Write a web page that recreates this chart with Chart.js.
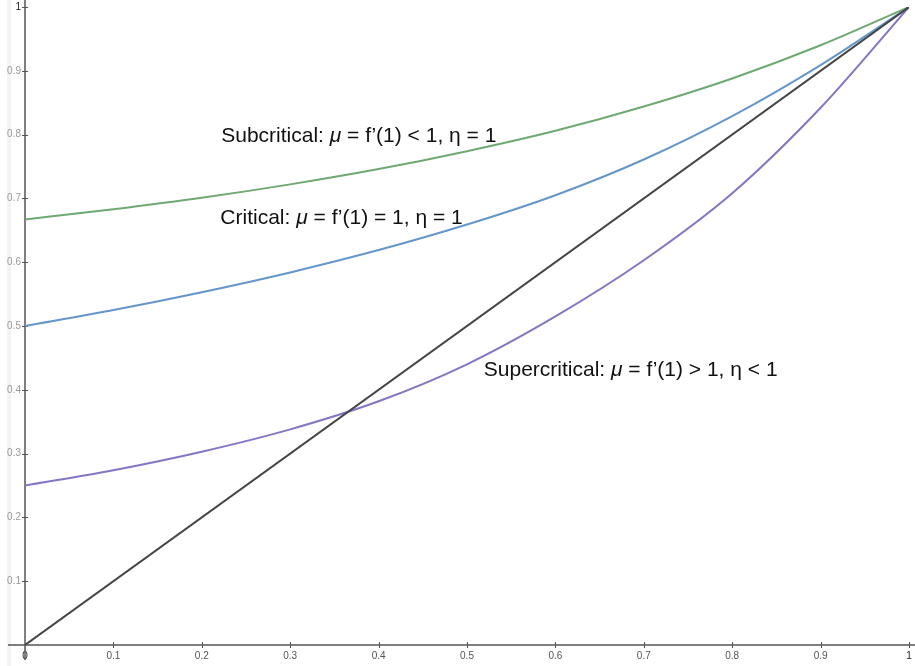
<!DOCTYPE html>
<html>
<head>
<meta charset="utf-8">
<script src="https://cdn.jsdelivr.net/npm/chart.js@4"></script>
<style>
  html, body { margin: 0; padding: 0; background: #fff; }
  #wrap { position: relative; width: 915px; height: 666px; }
</style>
</head>
<body>
<div id="wrap"><canvas id="chart"></canvas></div>
<script>
// s values and f(s)
const xs = [0, 0.1, 0.2, 0.3, 0.4, 0.5, 0.6, 0.7, 0.8, 0.9, 1];
const subcritical = [0.667, 0.683, 0.701, 0.722, 0.746, 0.774, 0.806, 0.844, 0.888, 0.940, 1];
const critical = [0.5, 0.525, 0.553, 0.584, 0.619, 0.659, 0.705, 0.761, 0.829, 0.909, 1];
const supercritical = [0.25, 0.274, 0.303, 0.338, 0.382, 0.440, 0.515, 0.603, 0.708, 0.842, 1];
const diagX = [0, 1];
const diagY = [0, 1];
const tickStep = 0.1;

// text labels: [text, font style]
const notes = [
  { x: 0.222, y: 0.797, parts: [["Subcritical: ", "normal"], ["\u03bc", "italic"], [" = f\u2019(1) < 1, \u03b7 = 1", "normal"]] },
  { x: 0.221, y: 0.669, parts: [["Critical: ", "normal"], ["\u03bc", "italic"], [" = f\u2019(1) = 1, \u03b7 = 1", "normal"]] },
  { x: 0.519, y: 0.431, parts: [["Supercritical: ", "normal"], ["\u03bc", "italic"], [" = f\u2019(1) > 1, \u03b7 < 1", "normal"]] },
];

const FONT = '"Liberation Sans", Arial, Helvetica, sans-serif';

function pts(xv, yv) {
  return xv.map((v, i) => ({ x: v, y: yv[i] }));
}

function fmt(v) {
  return String(+v.toFixed(1));
}

const decor = {
  id: "decor",
  beforeDraw(chart) {
    const { ctx, height } = chart;
    ctx.save();
    ctx.fillStyle = "#f3f3f3";
    ctx.fillRect(7, 0, 4, height);
    ctx.restore();
  },
  beforeDatasetsDraw(chart) {
    const { ctx, width, height } = chart;
    const { x, y } = chart.scales;
    const x0 = x.getPixelForValue(0);
    const y0 = y.getPixelForValue(0);
    ctx.save();
    ctx.strokeStyle = "#555";
    ctx.lineWidth = 1.5;
    ctx.beginPath();
    ctx.moveTo(x0, 0);
    ctx.lineTo(x0, height - 6);
    ctx.moveTo(8, y0);
    ctx.lineTo(width, y0);
    ctx.stroke();
    ctx.lineWidth = 1;
    ctx.beginPath();
    x.ticks.forEach(t => {
      if (t.value === 0) return;
      const px = Math.round(x.getPixelForValue(t.value)) + 0.5;
      ctx.moveTo(px, y0 - 3);
      ctx.lineTo(px, y0 + 3);
    });
    y.ticks.forEach(t => {
      if (t.value === 0) return;
      const py = Math.round(y.getPixelForValue(t.value)) + 0.5;
      ctx.moveTo(x0 - 3, py);
      ctx.lineTo(x0 + 3, py);
    });
    ctx.stroke();
    ctx.restore();
  },
  afterDatasetsDraw(chart) {
    const { ctx } = chart;
    const { x, y } = chart.scales;
    ctx.save();
    ctx.fillStyle = "#111";
    ctx.textBaseline = "middle";
    notes.forEach(n => {
      let px = x.getPixelForValue(n.x);
      const py = y.getPixelForValue(n.y);
      n.parts.forEach(([txt, style]) => {
        ctx.font = `${style} 21px ${FONT}`;
        ctx.fillText(txt, px, py);
        px += ctx.measureText(txt).width;
      });
    });
    ctx.restore();
  },
};

const line = (data, color, smooth) => ({
  data,
  borderColor: color,
  backgroundColor: color,
  borderWidth: 2,
  pointRadius: 0,
  fill: false,
  cubicInterpolationMode: smooth ? "monotone" : "default",
  tension: 0,
});

new Chart(document.getElementById("chart"), {
  type: "line",
  data: {
    datasets: [
      line(pts(diagX, diagY), "#454545", false),
      line(pts(xs, subcritical), "#6fa972", true),
      line(pts(xs, critical), "#6496cb", true),
      line(pts(xs, supercritical), "#8674c4", true),
    ],
  },
  options: {
    responsive: true,
    maintainAspectRatio: false,
    animation: false,
    layout: { padding: { top: 7, right: 6, left: 0, bottom: 0 } },
    plugins: { legend: { display: false }, tooltip: { enabled: false } },
    scales: {
      x: {
        type: "linear",
        min: 0,
        max: 1,
        grid: { display: false, drawTicks: false },
        border: { display: false },
        ticks: {
          stepSize: tickStep,
          padding: 5,
          maxRotation: 0,
          font: { size: 10, family: FONT },
          color: ctx => (ctx.tick.value === 0 || ctx.tick.value === 1 ? "#222" : "#555"),
          callback: v => fmt(v),
        },
        afterFit: s => {
          s.height = 21;
          s.paddingLeft = 0;
          s.paddingRight = 0;
        },
      },
      y: {
        type: "linear",
        min: 0,
        max: 1,
        grid: { display: false, drawTicks: false },
        border: { display: false },
        ticks: {
          stepSize: tickStep,
          padding: 4,
          font: { size: 10, family: FONT },
          color: ctx => (ctx.tick.value === 1 ? "#222" : "#999"),
          callback: v => (v === 0 ? "" : fmt(v)),
        },
        afterFit: s => {
          s.width = 25;
          s.paddingTop = 0;
          s.paddingBottom = 0;
        },
      },
    },
  },
  plugins: [decor],
});
</script>
</body>
</html>
